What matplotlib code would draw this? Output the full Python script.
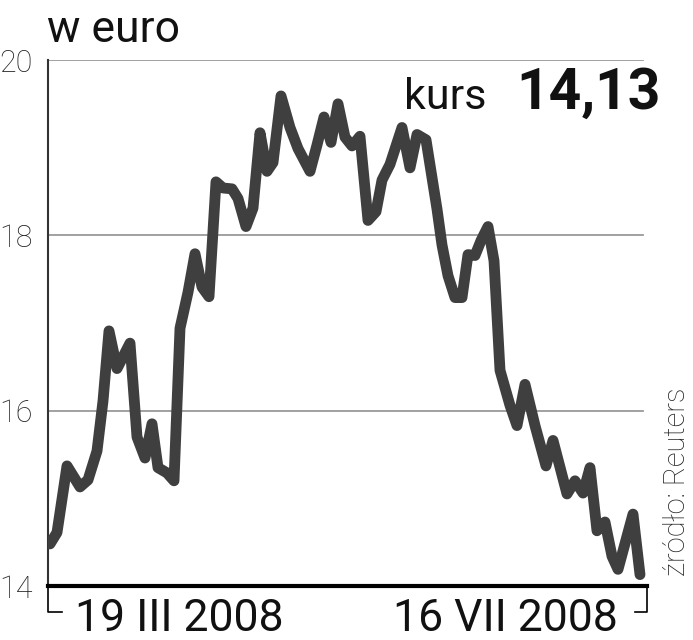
import matplotlib
matplotlib.use("Agg")
import matplotlib.pyplot as plt

# Days since 19 III 2008 and price in EUR
days = [0.4, 1.8, 3.8, 6.4, 8.0, 9.8, 11.0, 12.2, 13.8, 16.4, 17.8, 19.4, 20.8, 22.0,
        23.8, 25.2, 26.4, 28.0, 29.4, 30.8, 32.2, 33.6, 35.0, 36.8, 38.0, 39.6, 41.0,
        42.4, 43.8, 45.0, 46.6, 48.4, 50.0, 52.4, 53.8, 55.2, 56.6, 58.0, 59.4, 60.8,
        62.4, 64.0, 65.6, 66.8, 68.4, 70.8, 72.4, 73.8, 75.6, 77.8, 78.8, 80.0, 81.4,
        82.8, 84.0, 85.4, 86.6, 88.0, 89.2, 90.4, 92.4, 93.8, 95.4, 97.4, 99.6, 101.0,
        103.8, 105.4, 107.0, 108.4, 109.8, 111.4, 112.8, 114.0, 117.0, 118.4]
price = [14.48, 14.61, 15.37, 15.13, 15.21, 15.54, 16.11, 16.91, 16.48, 16.77, 15.70,
         15.46, 15.85, 15.35, 15.29, 15.20, 16.94, 17.35, 17.79, 17.41, 17.30, 18.61,
         18.54, 18.53, 18.42, 18.10, 18.31, 19.17, 18.73, 18.83, 19.59, 19.23, 18.99,
         18.73, 19.03, 19.35, 19.06, 19.50, 19.12, 19.02, 19.13, 18.17, 18.27, 18.63,
         18.81, 19.23, 18.77, 19.15, 19.09, 18.30, 17.89, 17.54, 17.29, 17.29, 17.78,
         17.77, 17.94, 18.10, 17.71, 16.46, 16.06, 15.83, 16.30, 15.83, 15.37, 15.66,
         15.05, 15.20, 15.06, 15.35, 14.63, 14.73, 14.34, 14.19, 14.82, 14.13]

yticks = [14, 16, 18, 20]
ytick_labels = ["14", "16", "18", "20"]
date_labels = ["19 III 2008", "16 VII 2008"]
title = "w euro"
last_label = "kurs"
last_value = "14,13"
source = "źródło: Reuters"

W, H = 693, 640
fig = plt.figure(figsize=(W / 100, H / 100), dpi=100)
fig.patch.set_facecolor("white")

L, R, T, B = 48, 647, 60, 586
ax = fig.add_axes([L / W, (H - B) / H, (R - L) / W, (B - T) / H])
ax.set_xlim(0, 119.8)
ax.set_ylim(14, 20)

FONT = "Roboto"

for yv in yticks[1:]:
    ax.axhline(yv, xmin=0, xmax=(643 - L) / (R - L), color="#9a9a9a", lw=1.3, zorder=1)

ax.plot(days, price, color="#3f3f3f", lw=7.8, solid_joinstyle="round",
        solid_capstyle="round", zorder=3)

for s in ["top", "right"]:
    ax.spines[s].set_visible(False)
ax.spines["left"].set_color("#333333")
ax.spines["left"].set_linewidth(1.5)
ax.spines["bottom"].set_color("black")
ax.spines["bottom"].set_linewidth(3.0)
ax.spines["bottom"].set_zorder(4)

ax.set_xticks([])
ax.set_yticks(yticks)
ax.set_yticklabels(ytick_labels, fontfamily=FONT, fontweight="light", fontsize=22,
                   color="#222222")
ax.tick_params(axis="y", length=0, pad=11)

# brackets under the axis
dy = 26 / (B - T)
ax.plot([0, 0, 14 / (R - L)], [0, -dy, -dy], transform=ax.transAxes, clip_on=False,
        color="black", lw=1.2)
ax.plot([(635 - L) / (R - L), 1.0, 1.0], [-dy, -dy, 0], transform=ax.transAxes,
        clip_on=False, color="black", lw=1.2)

def fx(px):
    return px / W

def fy(py):
    return 1 - py / H

fig.text(fx(47), fy(42), title, fontfamily=FONT, fontsize=32, ha="left", va="baseline",
         color="#111111")
fig.text(fx(404), fy(109), last_label, fontfamily=FONT, fontsize=31, ha="left",
         va="baseline", color="#111111")
fig.text(fx(661), fy(109), last_value, fontfamily=FONT, fontsize=41, fontweight="bold",
         ha="right", va="baseline", color="#111111")
fig.text(fx(75), fy(631), date_labels[0], fontfamily=FONT, fontsize=32, ha="left",
         va="baseline", color="#111111")
fig.text(fx(618), fy(631), date_labels[1], fontfamily=FONT, fontsize=32, ha="right",
         va="baseline", color="#111111")
fig.text(fx(677), fy(576), source, fontfamily=FONT, fontweight="light", fontsize=21,
         rotation=90, ha="center", va="bottom", color="#222222")

fig.savefig("out.png", dpi=100, facecolor="white")
